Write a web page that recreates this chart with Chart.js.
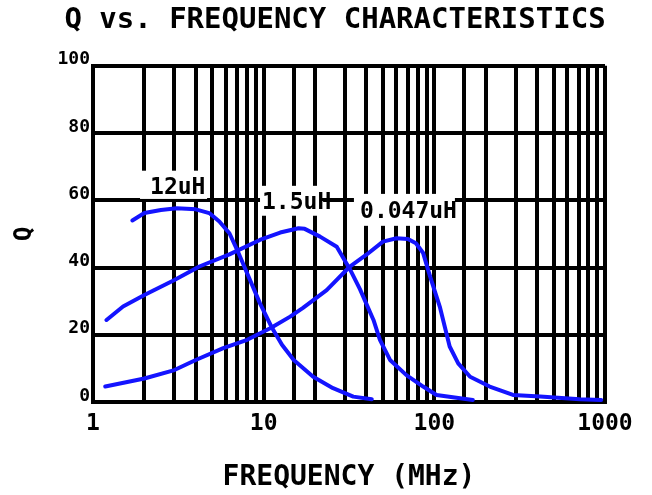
<!DOCTYPE html>
<html>
<head>
<meta charset="utf-8">
<script src="https://cdn.jsdelivr.net/npm/chart.js@4.4.1/dist/chart.umd.min.js"></script>
<style>
  html, body { margin: 0; padding: 0; background: #fff; }
  #wrap { width: 652px; height: 495px; }
</style>
</head>
<body>
<div id="wrap"><canvas id="chart" width="652" height="495"></canvas></div>
<script>
// Q vs frequency
const freq12uH = [1.7, 2.0, 2.5, 3.1, 4.0, 4.8, 5.5, 6.3, 7.0, 8.0, 9.5, 11.1, 12.8, 15, 19.5, 25.5, 33.5, 43];
const q12uH    = [54, 56.2, 57.1, 57.6, 57.3, 56.2, 53.7, 50.2, 45.2, 38.3, 29.4, 22.4, 17, 12.5, 7.5, 4.1, 1.6, 0.8];

const freq1_5uH = [1.2, 1.5, 2.0, 3.0, 4.2, 6.3, 9.5, 12.5, 16, 17.4, 21.4, 26.8, 32, 36.7, 44, 48, 55, 68.6, 86, 103, 168];
const q1_5uH    = [24.4, 28.4, 31.8, 36.3, 40.3, 43.9, 48.2, 50.4, 51.7, 51.5, 49.2, 46.2, 39.5, 33.5, 24.4, 18.5, 12.5, 8, 4.6, 2.1, 0.6];

const freq047uH = [1.18, 2.0, 3.0, 4.0, 5.8, 8.0, 11, 14.3, 17, 23.4, 32, 40, 50, 60, 70, 78, 86, 94.5, 107.6, 123, 138, 162, 211, 289, 417, 711, 950];
const q047uH    = [4.6, 7.0, 9.5, 12.5, 16, 18.5, 22, 25.4, 28, 33.3, 40.3, 43.8, 47.7, 48.7, 48.5, 47.2, 44.3, 37.3, 28.4, 16.5, 11.5, 7.5, 4.6, 2.1, 1.6, 0.8, 0.6];

const yTicks = [0, 20, 40, 60, 80, 100];
const xMajor = [1, 10, 100, 1000];

const FONT = "'DejaVu Sans Mono', monospace";
const BLUE = "rgb(20,20,255)";

const toPoints = (fs, qs) => fs.map((f, i) => ({ x: f, y: qs[i] }));

// curve labels; the white box hides the grid behind each label
const curveLabels = [
    { text: "12uH",    x: 2.16, y: 63.5, box: [1.886, 4.66, 60.4, 68.8] },
    { text: "1.5uH",   x: 9.78, y: 59.2, box: [9.52, 22.3, 55.4, 64.3] },
    { text: "0.047uH", x: 36.7, y: 56.4, box: [33.8, 132, 52.4, 61.9] },
];

const labelPlugin = {
    id: "curveLabels",
    beforeDatasetsDraw(chart) {
        const ctx = chart.ctx;
        const xs = chart.scales.x, ys = chart.scales.y;
        ctx.save();
        curveLabels.forEach((l) => {
            const x1 = xs.getPixelForValue(l.box[0]);
            const x2 = xs.getPixelForValue(l.box[1]);
            const y1 = ys.getPixelForValue(l.box[3]);
            const y2 = ys.getPixelForValue(l.box[2]);
            ctx.fillStyle = "#fff";
            ctx.fillRect(x1, y1, x2 - x1, y2 - y1);
            ctx.fillStyle = "#000";
            ctx.font = "bold 23px " + FONT;
            ctx.textAlign = "left";
            ctx.textBaseline = "middle";
            ctx.fillText(l.text, xs.getPixelForValue(l.x), ys.getPixelForValue(l.y));
        });
        ctx.restore();
    },
};

const line = (label, fs, qs) => ({
    label,
    data: toPoints(fs, qs),
    borderColor: BLUE,
    borderWidth: 4,
    pointRadius: 0,
    tension: 0,
    fill: false,
    borderCapStyle: "round",
    borderJoinStyle: "round",
});

new Chart(document.getElementById("chart").getContext("2d"), {
    type: "line",
    data: {
        datasets: [
            line("12uH", freq12uH, q12uH),
            line("1.5uH", freq1_5uH, q1_5uH),
            line("0.047uH", freq047uH, q047uH),
        ],
    },
    options: {
        responsive: false,
        animation: false,
        layout: { padding: { left: 18, right: 0, top: 0, bottom: 0 } },
        plugins: {
            legend: { display: false },
            tooltip: { enabled: false },
            title: {
                display: true,
                text: "Q vs. FREQUENCY CHARACTERISTICS",
                color: "#000",
                font: { family: FONT, size: 29, weight: "bold" },
                padding: { top: 3, bottom: 28 },
            },
        },
        scales: {
            x: {
                type: "logarithmic",
                min: 1,
                max: 1000,
                grid: { color: "#000", lineWidth: 4, drawTicks: false },
                border: { display: true, color: "#000", width: 4 },
                ticks: {
                    autoSkip: false,
                    maxRotation: 0,
                    padding: 8,
                    color: "#000",
                    font: { family: FONT, size: 23, weight: "bold" },
                    callback: (v) => (xMajor.includes(Math.round(v)) && Math.abs(v - Math.round(v)) < 1e-6 ? String(Math.round(v)) : ""),
                },
                title: {
                    display: true,
                    text: "FREQUENCY (MHz)",
                    color: "#000",
                    font: { family: FONT, size: 28, weight: "bold" },
                    padding: { top: 0, bottom: 0 },
                },
                afterFit(scale) {
                    scale.height = 93;
                    scale.paddingRight = 47;
                },
            },
            y: {
                min: 0,
                max: 100,
                afterBuildTicks(scale) {
                    scale.ticks = yTicks.map((v) => ({ value: v }));
                },
                grid: { color: "#000", lineWidth: 4, drawTicks: false },
                border: { display: true, color: "#000", width: 4 },
                ticks: {
                    padding: 3,
                    labelOffset: -6,
                    color: "#000",
                    font: { family: FONT, size: 18, weight: "bold" },
                },
                title: {
                    display: true,
                    text: "Q",
                    color: "#000",
                    font: { family: FONT, size: 24, weight: "bold", lineHeight: 0.6 },
                    padding: 0,
                },
                afterFit(scale) {
                    scale.width = 75;
                },
            },
        },
    },
    plugins: [labelPlugin],
});
</script>
</body>
</html>
